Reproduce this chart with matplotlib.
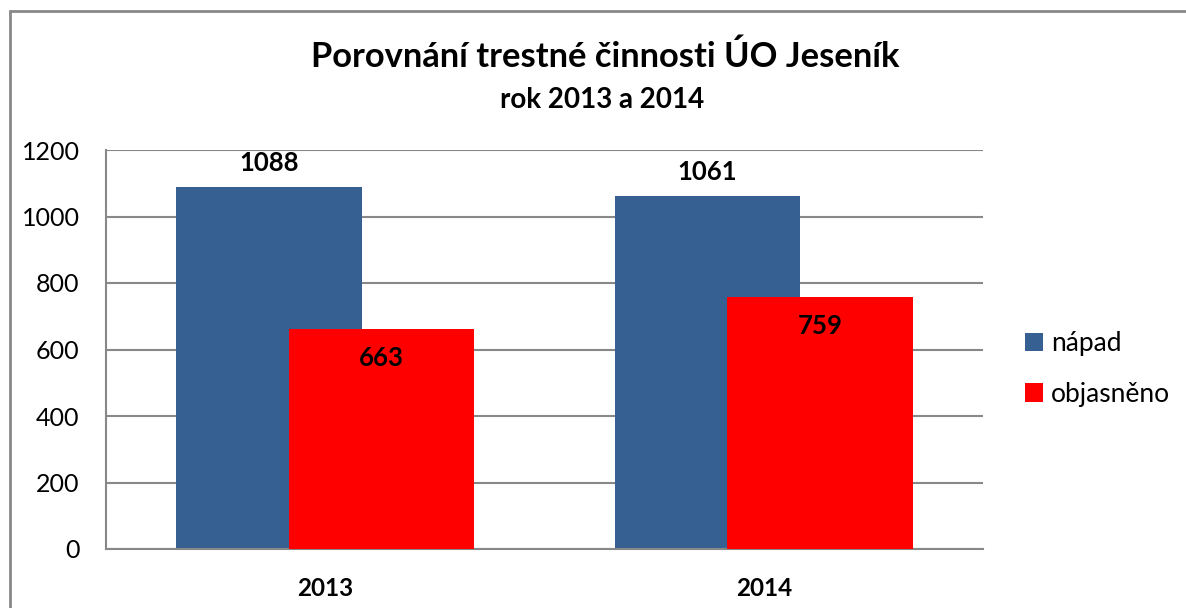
import matplotlib.pyplot as plt
import numpy as np
from matplotlib.patches import Rectangle

plt.rcParams['font.family'] = ['Lato', 'DejaVu Sans']

years = ['2013', '2014']
napad = [1088, 1061]
objasneno = [663, 759]
series_names = ['nápad', 'objasněno']
yticks = [0, 200, 400, 600, 800, 1000, 1200]

blue = '#376092'
red = '#ff0000'

fig = plt.figure(figsize=(11.86, 6.08), dpi=100)
ax = fig.add_axes([106/1186, 1 - 549/608, (983-106)/1186, (549-150)/608])

x = np.arange(len(years))
w = 0.423
off = 0.128
b1 = ax.bar(x - off, napad, w, color=blue, label=series_names[0], zorder=2)
b2 = ax.bar(x + off, objasneno, w, color=red, label=series_names[1], zorder=3)

for rect, v in zip(b1, napad):
    ax.annotate(str(v), (rect.get_x() + rect.get_width()/2, v), xytext=(0, 24),
                textcoords='offset pixels', ha='center', va='center',
                fontsize=18.5, fontweight='bold', zorder=5)
for rect, v in zip(b2, objasneno):
    ax.annotate(str(v), (rect.get_x() + rect.get_width()/2, v), xytext=(0, -29),
                textcoords='offset pixels', ha='center', va='center',
                fontsize=18.5, fontweight='bold', zorder=5)

ax.set_xlim(-0.5, 1.5)
ax.set_ylim(0, 1200)
ax.set_yticks(yticks)
ax.set_yticklabels([str(t) for t in yticks], fontsize=18)
ax.set_xticks(x)
ax.set_xticklabels(years, fontsize=17.5, fontweight='bold')
ax.tick_params(axis='y', length=0, pad=19)
ax.tick_params(axis='x', length=0, pad=20)
ax.yaxis.grid(True, color='#888888', linewidth=1.5, zorder=0)
ax.set_axisbelow(True)
for s in ['top', 'right']:
    ax.spines[s].set_visible(False)
for s in ['left', 'bottom']:
    ax.spines[s].set_color('#888888')
    ax.spines[s].set_linewidth(1.5)

fig.text(605/1186, 1 - 57/608, 'Porovnání trestné činnosti ÚO Jeseník',
         ha='center', va='center', fontsize=24.8, fontweight='bold')
fig.text(602/1186, 1 - 100/608, 'rok 2013 a 2014',
         ha='center', va='center', fontsize=20, fontweight='bold')

leg = fig.legend(handles=[b1, b2], labels=series_names, loc='center left',
                 bbox_to_anchor=(1001/1186, 1 - 369/608), frameon=False,
                 fontsize=19, handlelength=0.7, handleheight=0.7,
                 handletextpad=0.3, labelspacing=0.95)

fig.add_artist(Rectangle((10/1186, -0.1), 1.2, 1 - 11/608 + 0.1,
                         transform=fig.transFigure, fill=False,
                         edgecolor='#888888', linewidth=2))

fig.savefig('out.png', dpi=100)
